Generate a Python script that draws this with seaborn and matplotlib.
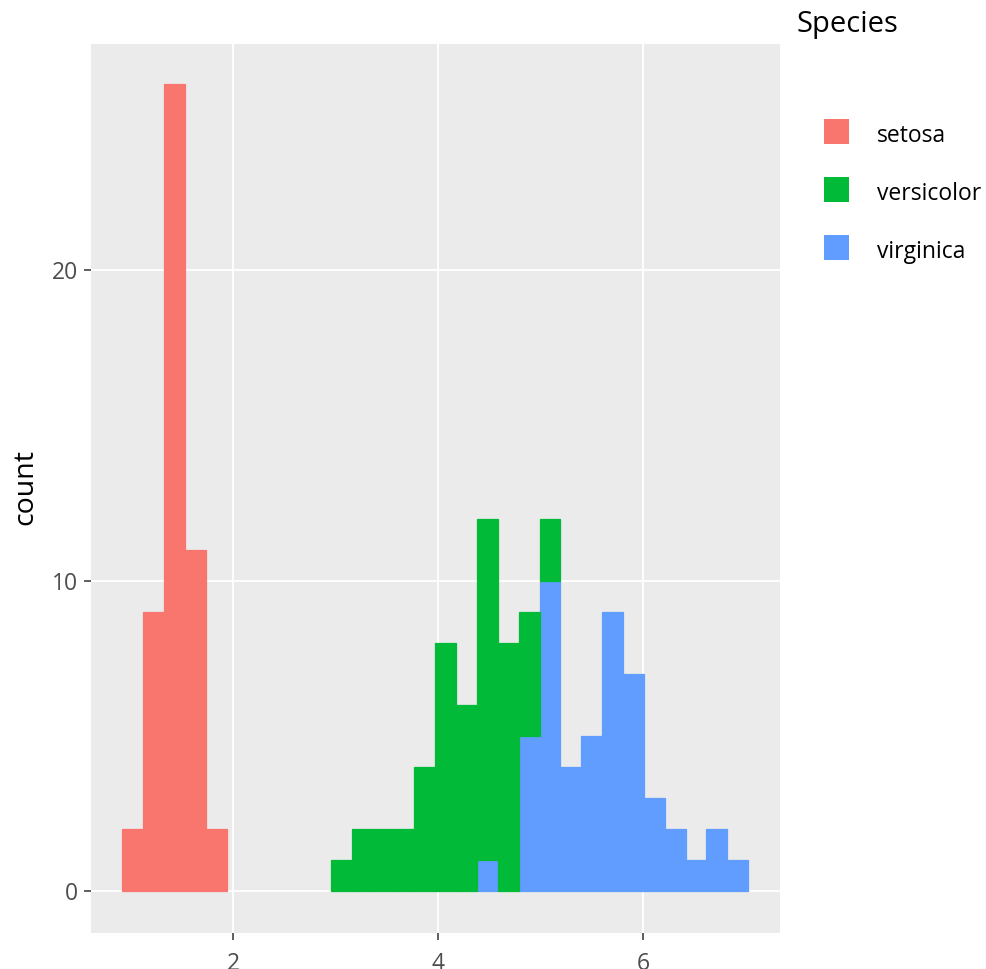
import numpy as np
import pandas as pd
import matplotlib
matplotlib.use("Agg")
import matplotlib.pyplot as plt
import seaborn as sns
from matplotlib.patches import Rectangle

# ---- data ----
species = ["setosa", "versicolor", "virginica"]
colors = ["#F8766D", "#00BA38", "#619CFF"]
bin_start = 0.918
bin_width = 0.2035
setosa_counts = [2, 9, 26, 11, 2, 0, 0, 0, 0, 0,
                 0, 0, 0, 0, 0, 0, 0, 0, 0, 0,
                 0, 0, 0, 0, 0, 0, 0, 0, 0, 0]
versicolor_counts = [0, 0, 0, 0, 0, 0, 0, 0, 0, 0,
                     1, 2, 2, 2, 4, 8, 6, 11, 8, 4,
                     2, 0, 0, 0, 0, 0, 0, 0, 0, 0]
virginica_counts = [0, 0, 0, 0, 0, 0, 0, 0, 0, 0,
                    0, 0, 0, 0, 0, 0, 0, 1, 0, 5,
                    10, 4, 5, 9, 7, 3, 2, 1, 2, 1]
x_ticks = [2, 4, 6]
y_ticks = [0, 10, 20]

# ---- build long table ----
n_bins = len(setosa_counts)
edges = bin_start + bin_width * np.arange(n_bins + 1)
centers = (edges[:-1] + edges[1:]) / 2
rows = []
for sp, cnts in zip(species, [setosa_counts, versicolor_counts, virginica_counts]):
    for c, n in zip(centers, cnts):
        rows.append({"Petal.Length": c, "count": n, "Species": sp})
df = pd.DataFrame(rows)

W, H = 986, 969
fig = plt.figure(figsize=(W / 100, H / 100), dpi=100)
plt.rcParams["font.family"] = ["Open Sans", "DejaVu Sans"]

# panel in pixel coords: left 91, right 780, top 44, bottom 933
ax = fig.add_axes([91 / W, 1 - 933 / H, (780 - 91) / W, (933 - 44) / H])
ax.set_facecolor("#EBEBEB")

sns.histplot(data=df, x="Petal.Length", weights="count", hue="Species",
             hue_order=species, palette=colors, bins=[float(e) for e in edges],
             multiple="stack", linewidth=0, alpha=1, ax=ax, legend=False)

for p in ax.patches:
    if p.get_height() > 0:
        fc = p.get_facecolor()
        p.set_facecolor((fc[0], fc[1], fc[2], 1.0))
        p.set_edgecolor((fc[0], fc[1], fc[2], 1.0))
        p.set_linewidth(0.9)
    else:
        p.set_linewidth(0)

ax.set_xlim(0.612, 7.334)
ax.set_ylim(-1.34, 27.28)
ax.set_xticks(x_ticks)
ax.set_yticks(y_ticks)
ax.grid(True, color="white", linewidth=1.3)
ax.set_axisbelow(True)
for s in ax.spines.values():
    s.set_visible(False)
ax.tick_params(axis="both", length=5, width=1.1, color="#333333",
               labelcolor="#4D4D4D", labelsize=16.5)
ax.tick_params(axis="y", pad=4)
ax.tick_params(axis="x", pad=9)
ax.set_xlabel("")
ax.set_ylabel("")

fig.text(25 / W, 1 - 487 / H, "count", rotation=90, ha="center", va="center",
         fontsize=20.5, color="black")

# ---- legend ----
fig.text(797 / W, 1 - 32 / H, "Species", ha="left", va="baseline",
         fontsize=21, color="black")
key_tops = [119, 177, 235]
baselines = [141.7, 200, 258]
for sp, col, kt, bl in zip(species, colors, key_tops, baselines):
    fig.add_artist(Rectangle((824 / W, 1 - (kt + 25) / H), 25 / W, 25 / H,
                             transform=fig.transFigure, facecolor=col,
                             edgecolor="none"))
    fig.text(877 / W, 1 - bl / H, sp, ha="left", va="baseline",
             fontsize=16.5, color="black")

fig.savefig("out.png", dpi=100)
